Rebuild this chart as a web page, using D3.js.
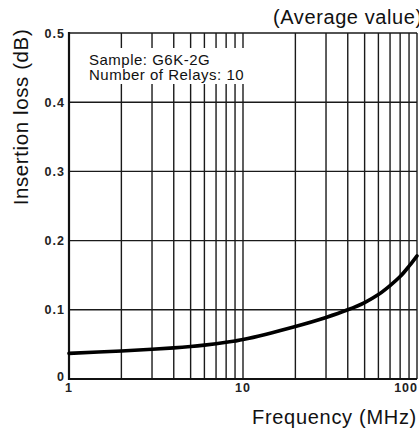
<!DOCTYPE html>
<html><head><meta charset="utf-8">
<script src="https://cdn.jsdelivr.net/npm/d3@7"></script>
<style>
html,body{margin:0;padding:0;background:#fff;}
svg{display:block;font-family:"Liberation Sans",Arial,Helvetica,sans-serif;}
</style></head>
<body>
<svg id="chart" width="419" height="430"></svg>
<script>
// Data
const freqMHz = [1, 2, 3, 4, 5, 6, 7, 8, 9, 10, 20, 30, 40, 50, 60, 70, 80, 90, 100];
const lossDB  = [0.037, 0.0405, 0.043, 0.045, 0.047, 0.049, 0.051, 0.053, 0.055, 0.057,
                 0.076, 0.089, 0.100, 0.1105, 0.122, 0.135, 0.148, 0.163, 0.178];
const xGrid = [2,3,4,5,6,7,8,9,10,20,30,40,50,60,70,80,90,100];
const yTicks = [0, 0.1, 0.2, 0.3, 0.4, 0.5];
const yTickLabels = ["0", "0.1", "0.2", "0.3", "0.4", "0.5"];
const xTicks = [1, 10, 100];
const xTickLabels = ["1", "10", "100"];
const noteLines = ["Sample: G6K-2G", "Number of Relays: 10"];

const svg = d3.select("#chart");
const x = d3.scaleLog().domain([1, 100]).range([69, 417]);
const y = d3.scaleLinear().domain([0, 0.5]).range([379, 33]);

const gridColor = "#1a1a1a";
// vertical grid
svg.append("g").selectAll("line").data(xGrid).join("line")
  .attr("x1", d => x(d)).attr("x2", d => x(d))
  .attr("y1", y(0)).attr("y2", y(0.5))
  .attr("stroke", gridColor).attr("stroke-width", 1.4);
// horizontal grid
svg.append("g").selectAll("line").data(yTicks.slice(1)).join("line")
  .attr("x1", x(1)).attr("x2", x(100))
  .attr("y1", d => y(d)).attr("y2", d => y(d))
  .attr("stroke", gridColor).attr("stroke-width", 1.4);
// axes frame (left and bottom)
svg.append("line").attr("x1", x(1)).attr("x2", x(1)).attr("y1", y(0)+1).attr("y2", y(0.5)-1)
  .attr("stroke", "#111").attr("stroke-width", 2.2);
svg.append("line").attr("x1", x(1)-1).attr("x2", x(100)).attr("y1", y(0)).attr("y2", y(0))
  .attr("stroke", "#111").attr("stroke-width", 2.2);

// annotation box
const note = svg.append("g");
note.append("rect").attr("x", 84).attr("y", 48).attr("width", 170).attr("height", 36).attr("fill", "#fff");
note.append("text").attr("font-size", 15).attr("letter-spacing", 0.5).attr("fill", "#111")
  .selectAll("tspan").data(noteLines).join("tspan")
  .attr("x", 89).attr("y", (d, i) => 65 + i * 15)
  .text(d => d);

// curve
const line = d3.line().x((d, i) => x(freqMHz[i])).y(d => y(d)).curve(d3.curveCatmullRom.alpha(0.5));
svg.append("path").datum(lossDB).attr("d", line)
  .attr("fill", "none").attr("stroke", "#000").attr("stroke-width", 3.6).attr("stroke-linecap", "round");

// y tick labels
svg.append("g").selectAll("text").data(yTicks).join("text")
  .attr("x", 65).attr("y", (d, i) => i === 0 ? y(d) - 3 : y(d))
  .attr("dy", "0.36em").attr("text-anchor", "end")
  .attr("font-size", 12.5).attr("font-weight", "bold").attr("letter-spacing", 1).attr("fill", "#222")
  .text((d, i) => yTickLabels[i]);
// x tick labels
svg.append("g").selectAll("text").data(xTicks).join("text")
  .attr("x", (d, i) => i === 2 ? 418 : x(d)).attr("y", 392)
  .attr("text-anchor", (d, i) => i === 2 ? "end" : "middle")
  .attr("font-size", 12.5).attr("font-weight", "bold").attr("letter-spacing", 1).attr("fill", "#222")
  .text((d, i) => xTickLabels[i]);

// axis titles
svg.append("text").attr("x", 252).attr("y", 424)
  .attr("font-size", 20).attr("letter-spacing", 0.7).attr("fill", "#111").text("Frequency (MHz)");
svg.append("text").attr("transform", "translate(28,117) rotate(-90)")
  .attr("text-anchor", "middle").attr("font-size", 20.5).attr("letter-spacing", 0.6).attr("fill", "#111")
  .text("Insertion loss (dB)");
svg.append("text").attr("x", 273).attr("y", 24)
  .attr("font-size", 20).attr("letter-spacing", 0.6).attr("fill", "#111").text("(Average value)");
</script>
</body></html>
